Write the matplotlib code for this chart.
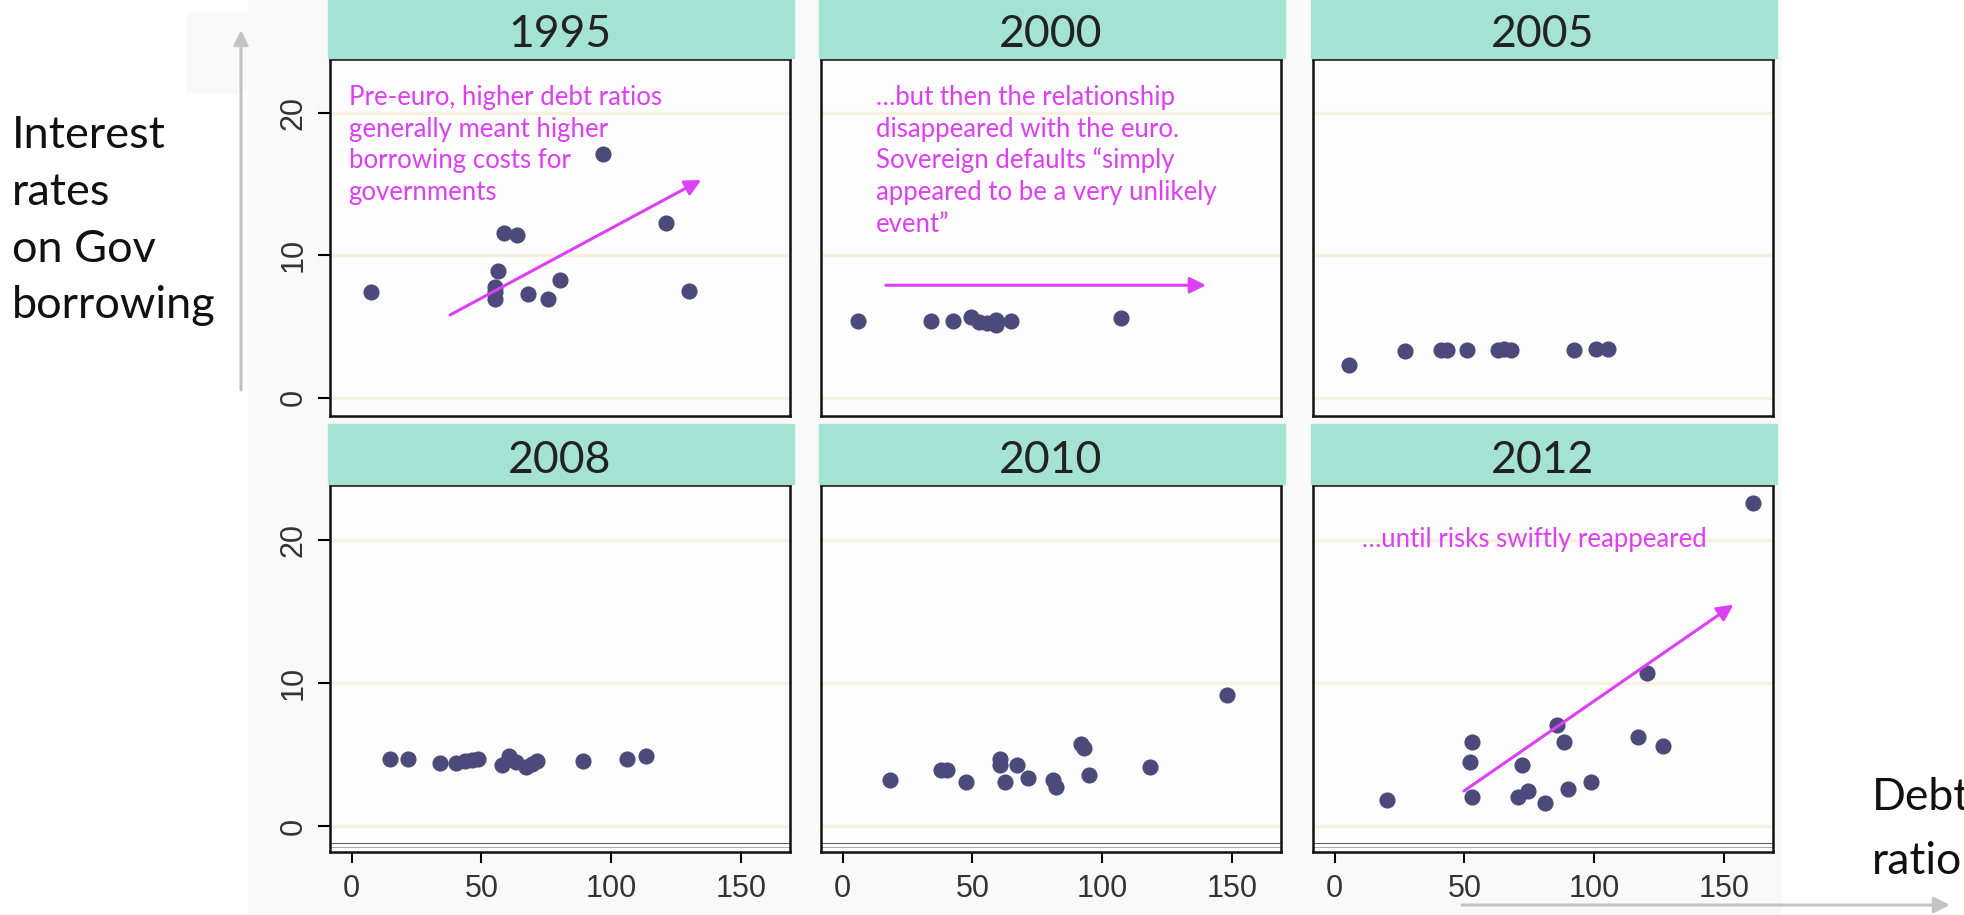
import matplotlib
matplotlib.use("Agg")
import matplotlib.pyplot as plt
from matplotlib.patches import Rectangle, FancyArrowPatch
from matplotlib.transforms import offset_copy

# valeurs (dette en % du PIB, taux en %)
years = ["1995", "2000", "2005", "2008", "2010", "2012"]

debt_1995 = [7.6, 55.3, 55.3, 55.3, 56.5, 58.8, 63.7, 67.8, 75.7, 80.2, 96.9, 121.2, 129.8]
rate_1995 = [7.4, 7.8, 7.4, 6.9, 8.9, 11.6, 11.4, 7.3, 6.9, 8.3, 17.1, 12.3, 7.5]

debt_2000 = [5.8, 34.2, 42.6, 49.4, 52.6, 55.8, 59.1, 59.1, 64.8, 107.2]
rate_2000 = [5.4, 5.4, 5.4, 5.7, 5.35, 5.25, 5.45, 5.1, 5.4, 5.6]

debt_2005 = [5.7, 27.3, 40.8, 43.3, 51.1, 62.9, 65.4, 67.8, 92.0, 100.8, 105.4]
rate_2005 = [2.3, 3.25, 3.35, 3.35, 3.35, 3.35, 3.4, 3.35, 3.35, 3.45, 3.45]

debt_2008 = [14.8, 21.6, 34.1, 40.3, 43.8, 46.4, 48.7, 58.1, 60.6, 63.2, 67.0, 69.3, 71.5, 89.0, 106.1, 113.4]
rate_2008 = [4.7, 4.7, 4.4, 4.4, 4.55, 4.6, 4.7, 4.3, 4.9, 4.5, 4.15, 4.35, 4.55, 4.55, 4.7, 4.9]

debt_2010 = [18.4, 37.9, 40.4, 47.5, 60.7, 60.7, 62.6, 67.0, 71.5, 81.1, 82.2, 91.8, 93.1, 94.7, 118.5, 147.9]
rate_2010 = [3.2, 3.95, 3.95, 3.05, 4.7, 4.25, 3.05, 4.25, 3.35, 3.2, 2.75, 5.75, 5.45, 3.55, 4.1, 9.2]

debt_2012 = [20.1, 52.0, 52.8, 52.8, 70.6, 72.2, 74.3, 81.2, 85.5, 88.4, 90.0, 98.9, 116.7, 120.4, 126.3, 161.1]
rate_2012 = [1.85, 4.5, 5.9, 2.0, 2.0, 4.25, 2.45, 1.6, 7.1, 5.9, 2.6, 3.05, 6.2, 10.7, 5.6, 22.6]

x_ticks = [0, 50, 100, 150]
y_ticks = [0, 10, 20]

note_1995 = ["Pre-euro, higher debt ratios", "generally meant higher",
             "borrowing costs for", "governments"]
note_2000 = ["\u2026but then the relationship", "disappeared with the euro.",
             "Sovereign defaults \u201csimply", "appeared to be a very unlikely", "event\u201d"]
note_2012 = "\u2026until risks swiftly reappeared"
y_title = ["Interest", "rates", "on Gov", "borrowing"]
x_title = ["Debt", "ratio"]

panels = [(debt_1995, rate_1995), (debt_2000, rate_2000), (debt_2005, rate_2005),
          (debt_2008, rate_2008), (debt_2010, rate_2010), (debt_2012, rate_2012)]

DOT = "#4b4a7b"
TEAL = "#a4e3d3"
MAG = "#df3ef7"
GRID = "#f6f0df"
TXT = "Lato"

W, H = 1965, 915
fig = plt.figure(figsize=(W / 100, H / 100), dpi=100)


def fx(px):
    return px / W


def fy(py):
    return 1 - py / H


def put_lines(target, x, y, lines, step, transform, **kw):
    # une ligne par texte, à pas fixe (en pixels) entre les lignes de base
    for k, line in enumerate(lines):
        tr = offset_copy(transform, fig=fig, y=-k * step, units="dots")
        target.text(x, y, line, transform=tr, va="baseline", ha="left", **kw)


# fond gris très clair de l'image collée
fig.add_artist(Rectangle((fx(248), 0), fx(1780 - 248), 1, transform=fig.transFigure,
                         color="#f9f9f9", zorder=-2))
fig.add_artist(Rectangle((fx(187), fy(92)), fx(61), (92 - 13) / H, transform=fig.transFigure,
                         color="#f9f9f9", zorder=-2))

col_left = [330, 821, 1313]
col_w = 460
row_top = [59, 485]
row_bot = [416, 852]
row_ylim = [(-1.29, 23.8), (-1.82, 23.88)]
strip_top = [0, 424]

axes = []
for i, year in enumerate(years):
    r, c = divmod(i, 3)
    left = col_left[c]
    ax = fig.add_axes([fx(left), fy(row_bot[r]), fx(col_w), (row_bot[r] - row_top[r]) / H])
    ax.set_facecolor("#fdfdfd")
    debt, rate = panels[i]
    ax.scatter(debt, rate, s=135, color=DOT, linewidths=0, zorder=3)
    for g in y_ticks:
        ax.axhline(g, color=GRID, lw=2.5, zorder=1)
    if r == 1:
        ax.axhline(-1.19, color="#555555", lw=0.7, zorder=2)
        ax.axhline(-1.45, color="#aaaaaa", lw=0.7, zorder=2)
    ax.set_xlim(-8.3, 168.8)
    ax.set_ylim(*row_ylim[r])
    ax.set_xticks(x_ticks)
    ax.set_yticks(y_ticks)
    ax.tick_params(axis="y", length=8.6, width=1.5, pad=7, labelsize=22, labelcolor="#333333",
                   labelrotation=90, left=(c == 0), labelleft=(c == 0))
    ax.tick_params(axis="x", length=8, width=1.5, pad=8, labelsize=22, labelcolor="#333333",
                   bottom=(r == 1), labelbottom=(r == 1))
    for lab in ax.get_yticklabels():
        lab.set_va("center")
        lab.set_family("Liberation Sans")
    for lab in ax.get_xticklabels():
        lab.set_family("Liberation Sans")
    for s in ax.spines.values():
        s.set_linewidth(1.8)
        s.set_color("#111111")

    # bandeau de titre
    sb = row_top[r] - 1
    fig.add_artist(Rectangle((fx(left - 2), fy(sb)), fx(col_w + 6), (sb - strip_top[r]) / H,
                             transform=fig.transFigure, color=TEAL, zorder=1))
    fig.text(fx(left + col_w / 2), fy(sb - 11), year, ha="center", va="baseline",
             fontsize=32, color="#222222", family=TXT, zorder=2)
    axes.append(ax)

# annotations
arrow = dict(arrowstyle="-|>", color=MAG, lw=2.2, mutation_scale=24, shrinkA=0, shrinkB=0)

put_lines(axes[0], -1.1, 20.58, note_1995, 31.7, axes[0].transData,
          color=MAG, fontsize=18.5, family=TXT)
axes[0].annotate("", xy=(134.6, 15.3), xytext=(38, 5.82), arrowprops=arrow)

put_lines(axes[1], 12.9, 20.58, note_2000, 31.7, axes[1].transData,
          color=MAG, fontsize=18.5, family=TXT)
axes[1].annotate("", xy=(139.9, 7.9), xytext=(16.7, 7.9), arrowprops=arrow)

axes[5].text(10.4, 19.55, note_2012, color=MAG, fontsize=18.5, family=TXT,
             va="baseline", ha="left")
axes[5].annotate("", xy=(153.6, 15.5), xytext=(49.8, 2.45), arrowprops=arrow)

# titres des axes
put_lines(fig, fx(11.5), fy(148.3), y_title, 56.7, fig.transFigure,
          fontsize=32.5, family=TXT, color="#111111")
put_lines(fig, fx(1872), fy(810), x_title, 64, fig.transFigure,
          fontsize=32, family=TXT, color="#111111")

# flèches grises
fig.add_artist(FancyArrowPatch((fx(241), fy(390)), (fx(241), fy(30)), transform=fig.transFigure,
                               arrowstyle="-|>", mutation_scale=22, lw=2.2, color="#c3c3c3",
                               shrinkA=0, shrinkB=0))
fig.add_artist(FancyArrowPatch((fx(1462), fy(905)), (fx(1950), fy(905)), transform=fig.transFigure,
                               arrowstyle="-|>", mutation_scale=24, lw=2.2, color="#c3c3c3",
                               shrinkA=0, shrinkB=0))

fig.savefig("out.png", dpi=100)
